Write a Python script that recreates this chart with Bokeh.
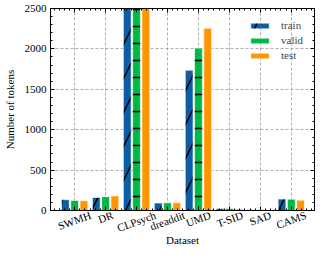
import math
import numpy as np
from bokeh.plotting import figure
from bokeh.models import (ColumnDataSource, Range1d, FixedTicker, LinearAxis, Legend, LegendItem,
                          CustomJSTickFormatter)
from bokeh.transform import dodge
from bokeh.embed import file_html
from bokeh.resources import INLINE

datasets = ["SWMH", "DR", "CLPsych", "dreaddit", "UMD", "T-SID", "SAD", "CAMS"]
train = [133, 161, 3100, 93, 1735, 25, 10, 141]
valid = [125, 168, 3000, 95, 2010, 25, 8, 140]
test = [121, 181, 2950, 95, 2255, 20, 6, 128]
y_ticks = [0, 500, 1000, 1500, 2000, 2500]

# approximate rendered widths (px) of the tick labels, used only to centre the
# rotated labels under their ticks (Bokeh right-aligns rotated labels)
label_px = [34.2, 15.3, 40.3, 36.0, 25.7, 28.1, 22.0, 31.2]

pos = list(range(len(datasets)))
src = ColumnDataSource(dict(x=pos, train=train, valid=valid, test=test))

FONT = "Liberation Serif"
X0, X1 = -0.78, 7.75

p = figure(width=316, height=250, output_backend="svg", toolbar_location=None,
           x_range=Range1d(X0, X1), y_range=Range1d(0, 2500),
           min_border_left=38, min_border_top=8, min_border_right=2, min_border_bottom=40)

bw = 0.25
r1 = p.vbar(x=dodge("x", -0.3, range=p.x_range), top="train", width=bw, source=src,
            fill_color="#0C5DA5", line_color="white", line_width=0.6,
            hatch_pattern="/", hatch_color="black", hatch_scale=34, hatch_weight=1.5)
r2 = p.vbar(x="x", top="valid", width=bw, source=src,
            fill_color="#00B945", line_color="white", line_width=0.6,
            hatch_pattern="-", hatch_color="black", hatch_scale=17, hatch_weight=1.6)
r3 = p.vbar(x=dodge("x", 0.3, range=p.x_range), top="test", width=bw, source=src,
            fill_color="#FF9500", line_color="white", line_width=0.6)

minor_x = [i / 6 for i in range(-4, 47) if i % 6 != 0]
minor_y = [v for v in range(0, 2501, 100) if v % 500 != 0]
xt = FixedTicker(ticks=pos, minor_ticks=minor_x)
yt = FixedTicker(ticks=y_ticks, minor_ticks=minor_y)
blank = CustomJSTickFormatter(code="return ''")

def style(ax):
    ax.major_tick_in = 4
    ax.major_tick_out = 0
    ax.minor_tick_in = 2
    ax.minor_tick_out = 0
    ax.axis_line_color = "black"
    ax.major_tick_line_color = "black"
    ax.minor_tick_line_color = "black"
    ax.major_label_text_font = FONT
    ax.major_label_text_font_size = "11px"
    ax.major_label_text_color = "black"
    ax.axis_label_text_font = FONT
    ax.axis_label_text_font_size = "11px"
    ax.axis_label_text_font_style = "normal"
    ax.axis_label_text_color = "black"

def tick_only(ax):
    ax.formatter = blank
    ax.major_label_standoff = 0
    ax.major_label_text_font_size = "1px"

xa = p.xaxis[0]
xa.ticker = xt
style(xa)
tick_only(xa)

# label axis: rotated category names, centred under each category
px_per_unit = (316 - 50) / (X1 - X0)
ang = math.radians(20)
lab_ticks = [round(i + (w * math.cos(ang) / 2) / px_per_unit, 3) for i, w in zip(pos, label_px)]
lab_ax = LinearAxis(ticker=FixedTicker(ticks=lab_ticks, minor_ticks=[]))
style(lab_ax)
lab_ax.axis_line_color = None
lab_ax.major_tick_line_color = None
lab_ax.minor_tick_line_color = None
lab_ax.major_tick_in = 0
lab_ax.minor_tick_in = 0
lab_ax.major_label_overrides = {t: d for t, d in zip(lab_ticks, datasets)}
lab_ax.major_label_orientation = ang
lab_ax.major_label_standoff = 4
lab_ax.axis_label = "Dataset"
lab_ax.axis_label_standoff = -9
p.add_layout(lab_ax, "below")

ya = p.yaxis[0]
ya.ticker = yt
ya.axis_label = "Number of tokens"
ya.axis_label_standoff = 6
ya.major_label_standoff = 4
style(ya)

top = LinearAxis(ticker=FixedTicker(ticks=pos, minor_ticks=minor_x))
style(top)
tick_only(top)
p.add_layout(top, "above")

right = LinearAxis(ticker=FixedTicker(ticks=y_ticks, minor_ticks=minor_y))
style(right)
tick_only(right)
p.add_layout(right, "right")

p.xgrid.ticker = xt
p.ygrid.ticker = yt
for g in (p.xgrid[0], p.ygrid[0]):
    g.grid_line_color = "#9a9a9a"
    g.grid_line_dash = "3 2"
    g.grid_line_width = 0.8

p.outline_line_color = "black"
p.background_fill_color = "white"

legend = Legend(items=[LegendItem(label="train", renderers=[r1]),
                       LegendItem(label="valid", renderers=[r2]),
                       LegendItem(label="test", renderers=[r3])],
                location="top_right")
legend.label_text_font = FONT
legend.label_text_font_size = "11px"
legend.glyph_width = 23
legend.glyph_height = 7
legend.label_height = 7
legend.label_standoff = 10
legend.spacing = 3
legend.padding = 8
legend.margin = 11
legend.border_line_color = None
legend.background_fill_alpha = 0
p.add_layout(legend)

open("out.html", "w").write(file_html(p, INLINE))
